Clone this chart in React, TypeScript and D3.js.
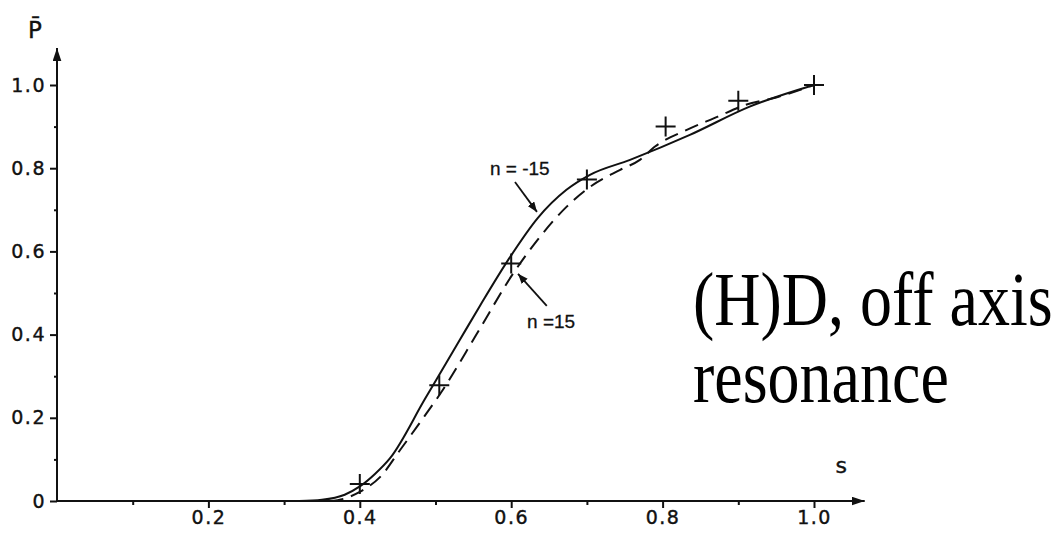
import { useEffect, useRef } from "react"
import * as d3 from "d3"

// n = -15 (solid curve)
const sSolid = [0.32, 0.35, 0.38, 0.40, 0.42, 0.44, 0.486, 0.532, 0.559, 0.598, 0.635, 0.673, 0.704, 0.757, 0.836, 0.915, 1.0]
const pSolid = [0.0, 0.003, 0.015, 0.035, 0.065, 0.103, 0.245, 0.387, 0.47, 0.585, 0.68, 0.748, 0.784, 0.82, 0.88, 0.948, 1.0]

// n = 15 (dashed curve)
const sDashed = [0.36, 0.38, 0.40, 0.411, 0.427, 0.453, 0.48, 0.51, 0.554, 0.603, 0.638, 0.673, 0.704, 0.744, 0.77, 0.79, 0.832, 0.873, 0.909, 0.95, 1.0]
const pDashed = [0.0, 0.006, 0.022, 0.034, 0.058, 0.122, 0.19, 0.268, 0.40, 0.548, 0.635, 0.707, 0.755, 0.796, 0.82, 0.852, 0.892, 0.924, 0.952, 0.97, 1.0]

// measured points (+)
const sPoints = [0.40, 0.505, 0.60, 0.70, 0.804, 0.90, 1.0]
const pPoints = [0.041, 0.278, 0.571, 0.773, 0.90, 0.962, 1.0]

const xTicks = [0.2, 0.4, 0.6, 0.8, 1.0]
const xMinor = [0.1, 0.3, 0.5, 0.7, 0.9]
const yTicks = [0, 0.2, 0.4, 0.6, 0.8, 1.0]
const yMinor = [0.1, 0.3, 0.5, 0.7, 0.9]

// annotations, in data units: label position, arrow start, arrow end
const notes = [
    { text: "n = -15", s: 0.572, p: 0.784, s0: 0.605, p0: 0.767, s1: 0.634, p1: 0.695 },
    { text: "n =15", s: 0.621, p: 0.416, s0: 0.647, p0: 0.469, s1: 0.609, p1: 0.546 },
]

const width = 1059
const height = 533

export default function App() {
    const ref = useRef(null)

    useEffect(() => {
        d3.select(ref.current).selectAll("*").remove()
        buildGraph()
    }, [])

    function buildGraph() {
        const x = d3.scaleLinear().domain([0, 1]).range([57, 814])
        const y = d3.scaleLinear().domain([0, 1]).range([501, 85])
        const sMax = 1.067 // end of x arrow
        const pMax = 1.089 // end of y arrow
        const tickFont = "DejaVu Sans, sans-serif"
        const noteFont = "Liberation Sans, Arial, sans-serif"

        const svg = d3.select(ref.current)

        const defs = svg.append("defs")
        defs.append("marker")
            .attr("id", "axisArrow")
            .attr("viewBox", "0 0 12 8")
            .attr("refX", 12)
            .attr("refY", 4)
            .attr("markerUnits", "userSpaceOnUse")
            .attr("markerWidth", 13)
            .attr("markerHeight", 9)
            .attr("orient", "auto")
            .append("path")
                .attr("d", "M0,0L12,4L0,8Z")
                .attr("fill", "#111")
        defs.append("marker")
            .attr("id", "noteArrow")
            .attr("viewBox", "0 0 10 8")
            .attr("refX", 10)
            .attr("refY", 4)
            .attr("markerUnits", "userSpaceOnUse")
            .attr("markerWidth", 10)
            .attr("markerHeight", 8)
            .attr("orient", "auto")
            .append("path")
                .attr("d", "M0,0L10,4L0,8Z")
                .attr("fill", "#111")

        // axes lines with arrows
        svg.append("line")
            .attr("x1", x(0)).attr("y1", y(0))
            .attr("x2", x(sMax)).attr("y2", y(0))
            .attr("stroke", "#111").attr("stroke-width", 2)
            .attr("marker-end", "url(#axisArrow)")
        svg.append("line")
            .attr("x1", x(0)).attr("y1", y(0))
            .attr("x2", x(0)).attr("y2", y(pMax))
            .attr("stroke", "#111").attr("stroke-width", 2)
            .attr("marker-end", "url(#axisArrow)")

        const styleLabels = g => g.selectAll("text")
            .attr("fill", "#111")
            .attr("stroke", "#111")
            .attr("stroke-width", 0.4)
            .attr("font-family", tickFont)
            .attr("font-size", 19)
            .attr("letter-spacing", 1.5)

        // x ticks
        svg.append("g")
                .attr("transform", `translate(0,${y(0)})`)
            .call(d3.axisBottom(x).tickValues(xTicks).tickSize(7).tickPadding(3).tickFormat(d3.format(".1f")))
            .call(g => g.select(".domain").remove())
            .call(g => g.selectAll("line").attr("stroke", "#111").attr("stroke-width", 2))
            .call(styleLabels)
        svg.append("g")
                .attr("transform", `translate(0,${y(0)})`)
            .call(d3.axisBottom(x).tickValues(xMinor).tickSize(4).tickFormat(() => ""))
            .call(g => g.select(".domain").remove())
            .call(g => g.selectAll("line").attr("stroke", "#111").attr("stroke-width", 2))

        // y ticks
        svg.append("g")
                .attr("transform", `translate(${x(0)},0)`)
            .call(d3.axisLeft(y).tickValues(yTicks).tickSize(7).tickPadding(4)
                .tickFormat(d => d === 0 ? "0" : d3.format(".1f")(d)))
            .call(g => g.select(".domain").remove())
            .call(g => g.selectAll("line").attr("stroke", "#111").attr("stroke-width", 2))
            .call(styleLabels)
        svg.append("g")
                .attr("transform", `translate(${x(0)},0)`)
            .call(d3.axisLeft(y).tickValues(yMinor).tickSize(3).tickFormat(() => ""))
            .call(g => g.select(".domain").remove())
            .call(g => g.selectAll("line").attr("stroke", "#111").attr("stroke-width", 2))

        // axis titles
        svg.append("text")
            .attr("x", x(0) - 22)
            .attr("y", y(pMax) - 10)
            .attr("text-anchor", "middle")
            .attr("font-family", tickFont)
            .attr("font-size", 23)
            .attr("fill", "#111")
            .attr("stroke", "#111")
            .attr("stroke-width", 0.4)
            .text("P\u0304")
        svg.append("text")
            .attr("x", x(1.036))
            .attr("y", y(0) - 28)
            .attr("text-anchor", "middle")
            .attr("font-family", tickFont)
            .attr("font-size", 22)
            .attr("fill", "#111")
            .attr("stroke", "#111")
            .attr("stroke-width", 0.4)
            .text("s")

        const line = d3.line()
            .x(d => x(d[0]))
            .y(d => y(d[1]))
            .curve(d3.curveMonotoneX)

        // solid, n = -15
        svg.append("path")
            .datum(sSolid.map((s, i) => [s, pSolid[i]]))
            .attr("fill", "none")
            .attr("stroke", "#111")
            .attr("stroke-width", 2)
            .attr("d", line)

        // dashed, n = 15
        svg.append("path")
            .datum(sDashed.map((s, i) => [s, pDashed[i]]))
            .attr("fill", "none")
            .attr("stroke", "#111")
            .attr("stroke-width", 2)
            .attr("stroke-dasharray", "14,8")
            .attr("d", line)

        // + markers
        const arm = 10
        svg.append("g")
            .selectAll("path")
            .data(sPoints.map((s, i) => [s, pPoints[i]]))
            .join("path")
                .attr("fill", "none")
                .attr("stroke", "#111")
                .attr("stroke-width", 2)
                .attr("d", d => `M${x(d[0]) - arm},${y(d[1])}h${2 * arm}M${x(d[0])},${y(d[1]) - arm}v${2 * arm}`)

        // annotations
        const ann = svg.append("g")
        ann.selectAll("text")
            .data(notes)
            .join("text")
                .attr("x", d => x(d.s))
                .attr("y", d => y(d.p))
                .attr("font-family", noteFont)
                .attr("font-size", 19)
                .attr("fill", "#111")
                .attr("stroke", "#111")
                .attr("stroke-width", 0.3)
                .text(d => d.text)
        ann.selectAll("line")
            .data(notes)
            .join("line")
                .attr("x1", d => x(d.s0)).attr("y1", d => y(d.p0))
                .attr("x2", d => x(d.s1)).attr("y2", d => y(d.p1))
                .attr("stroke", "#111")
                .attr("stroke-width", 1.8)
                .attr("marker-end", "url(#noteArrow)")

        // overlay caption
        const cap = svg.append("g")
            .attr("font-family", "Liberation Serif, Times New Roman, serif")
            .attr("font-size", 64)
            .attr("fill", "#000")
        cap.append("text")
            .attr("transform", "translate(693,325) scale(1,1.18)")
            .text("(H)D, off axis")
        cap.append("text")
            .attr("transform", "translate(693,402) scale(1,1.18)")
            .text("resonance")
    }

    return (
        <svg
            ref={ref}
            width={width}
            height={height}
            viewBox={`0 0 ${width} ${height}`}
            style={{ position: "absolute", left: 0, top: 0, background: "#fff" }}
        />
    )
}
